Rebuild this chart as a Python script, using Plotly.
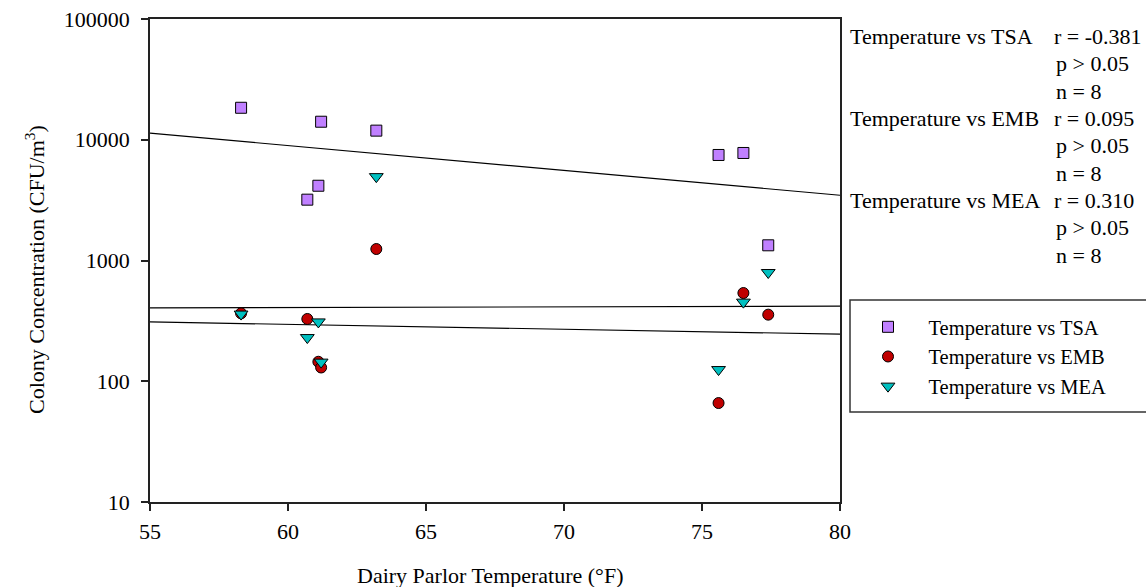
import numpy as np
import plotly.graph_objects as go

# Dairy parlor temperature (°F) for the eight sampling visits
temperature = [58.3, 60.7, 61.1, 61.2, 63.2, 75.6, 76.5, 77.4]

# Colony concentrations (CFU/m3) on each medium
tsa = [18400, 3190, 4160, 14100, 11900, 7480, 7770, 1336]
emb = [365, 328, 145, 130, 1245, 66, 538, 356]
mea = [360, 230, 310, 144, 4950, 125, 452, 795]

series_names = ["Temperature vs TSA", "Temperature vs EMB", "Temperature vs MEA"]
stats_r = ["r = -0.381", "r = 0.095", "r = 0.310"]
stats_p = ["p > 0.05", "p > 0.05", "p > 0.05"]
stats_n = ["n = 8", "n = 8", "n = 8"]

x_ticks = [55, 60, 65, 70, 75, 80]
y_ticks = [10, 100, 1000, 10000, 100000]

FONT = "Liberation Serif, Times New Roman, serif"
W, H = 1146, 587
L, R, T, B = 150, 840, 19, 502  # plot area edges in px


def px_x(px):
    return (px - L) / (R - L)


def px_y(py):
    return (B - py) / (B - T)


styles = [
    dict(symbol="square", color="#C080FF", size=11),
    dict(symbol="circle", color="#C00000", size=11),
    dict(symbol="triangle-down", color="#00C0C0", size=12),
]

fig = go.Figure()
x_line = np.array([55, 80])
for name, vals, st in zip(series_names, [tsa, emb, mea], styles):
    # least-squares fit of log10(concentration) against temperature
    slope, intercept = np.polyfit(temperature, np.log10(vals), 1)
    fig.add_trace(go.Scatter(
        x=x_line, y=10 ** (intercept + slope * x_line), mode="lines",
        line=dict(color="black", width=1.2), showlegend=False, hoverinfo="skip"))

for name, vals, st in zip(series_names, [tsa, emb, mea], styles):
    fig.add_trace(go.Scatter(
        x=temperature, y=vals, mode="markers",
        name="\u00a0\u00a0\u00a0\u00a0" + name,
        marker=dict(symbol=st["symbol"], size=st["size"], color=st["color"],
                    line=dict(color="black", width=1))))

axis_common = dict(
    showline=True, linecolor="#222", linewidth=1.5, mirror=True,
    ticks="outside", ticklen=7, tickwidth=1.5, tickcolor="#222",
    showgrid=False, zeroline=False, automargin=False,
    tickfont=dict(family=FONT, size=22, color="black"),
)

fig.update_xaxes(range=[55, 80], tickvals=x_ticks, ticktext=[str(v) for v in x_ticks],
                 ticklabelstandoff=2, **axis_common)
fig.update_yaxes(type="log", range=[1, 5], tickvals=y_ticks,
                 ticktext=[str(v) for v in y_ticks], ticklabelstandoff=7, **axis_common)

annotations = [
    dict(text="Dairy Parlor Temperature (°F)", x=px_x(490), y=px_y(575),
         xref="paper", yref="paper", showarrow=False, xanchor="center", yanchor="middle",
         font=dict(family=FONT, size=22, color="black")),
    dict(text="Colony Concentration (CFU/m<sup>3</sup>)", x=px_x(35), y=px_y(270),
         xref="paper", yref="paper", showarrow=False, xanchor="center", yanchor="middle",
         textangle=-90, font=dict(family=FONT, size=22, color="black")),
]

row_y0, row_step = 36.7, 27.3
for i, name in enumerate(series_names):
    base = row_y0 + 3 * i * row_step
    rows = [(name, 848, base), (stats_r[i], 1052, base),
            (stats_p[i], 1054, base + row_step), (stats_n[i], 1054, base + 2 * row_step)]
    for text, xp, yp in rows:
        annotations.append(dict(
            text=text, x=px_x(xp), y=px_y(yp), xref="paper", yref="paper",
            showarrow=False, xanchor="left", yanchor="middle",
            font=dict(family=FONT, size=22, color="black")))

fig.update_layout(
    width=W, height=H,
    margin=dict(l=L, r=W - R, t=T, b=H - B, autoexpand=False),
    paper_bgcolor="white", plot_bgcolor="white",
    annotations=annotations,
    shapes=[dict(type="rect", xref="paper", yref="paper",
                 x0=px_x(850), x1=px_x(1152), y0=px_y(412), y1=px_y(300),
                 line=dict(color="#333", width=1.5))],
    legend=dict(x=px_x(868), y=px_y(307), xanchor="left", yanchor="top",
                bgcolor="rgba(0,0,0,0)", borderwidth=0,
                font=dict(family=FONT, size=20.5, color="black")),
    showlegend=True,
)

fig.write_html("out.html")
